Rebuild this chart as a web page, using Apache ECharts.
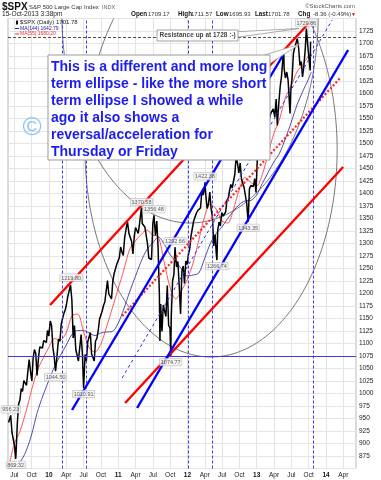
<!DOCTYPE html>
<html><head><meta charset="utf-8">
<script src="https://cdn.jsdelivr.net/npm/echarts@6/dist/echarts.min.js"></script>
<style>html,body{margin:0;padding:0;background:#fff}#c{width:381px;height:480px}</style>
</head><body><div id="c"></div>
<script>
// ---------- data ----------
const priceDates = ['2009-06-01','2009-06-05','2009-06-12','2009-06-19','2009-06-26','2009-07-02','2009-07-08','2009-07-10','2009-07-17','2009-07-24','2009-07-31','2009-08-07','2009-08-14','2009-08-21','2009-08-28','2009-09-04','2009-09-11','2009-09-18','2009-09-25','2009-10-02','2009-10-09','2009-10-16','2009-10-23','2009-10-30','2009-11-06','2009-11-13','2009-11-20','2009-11-27','2009-12-04','2009-12-11','2009-12-18','2009-12-24','2009-12-31',
'2010-01-08','2010-01-15','2010-01-22','2010-01-29','2010-02-05','2010-02-12','2010-02-19','2010-02-26','2010-03-05','2010-03-12','2010-03-19','2010-03-26','2010-04-02','2010-04-09','2010-04-16','2010-04-23','2010-04-26','2010-04-30','2010-05-07','2010-05-14','2010-05-21','2010-05-28','2010-06-04','2010-06-11','2010-06-18','2010-06-25','2010-07-01','2010-07-09','2010-07-16','2010-07-23','2010-07-30','2010-08-06','2010-08-13','2010-08-20','2010-08-27','2010-09-03','2010-09-10','2010-09-17','2010-09-24','2010-10-01','2010-10-08','2010-10-15','2010-10-22','2010-10-29','2010-11-05','2010-11-12','2010-11-19','2010-11-26','2010-12-03','2010-12-10','2010-12-17','2010-12-23','2010-12-31',
'2011-01-07','2011-01-14','2011-01-21','2011-01-28','2011-02-04','2011-02-11','2011-02-18','2011-02-25','2011-03-04','2011-03-11','2011-03-18','2011-03-25','2011-04-01','2011-04-08','2011-04-15','2011-04-21','2011-04-29','2011-05-02','2011-05-06','2011-05-13','2011-05-20','2011-05-27','2011-06-03','2011-06-10','2011-06-17','2011-06-24','2011-07-01','2011-07-07','2011-07-15','2011-07-22','2011-07-29','2011-08-05','2011-08-08','2011-08-12','2011-08-19','2011-08-26','2011-09-02','2011-09-09','2011-09-16','2011-09-23','2011-09-30','2011-10-04','2011-10-07','2011-10-14','2011-10-21','2011-10-27','2011-11-04','2011-11-11','2011-11-18','2011-11-25','2011-12-02','2011-12-09','2011-12-16','2011-12-23','2011-12-30',
'2012-01-06','2012-01-13','2012-01-20','2012-01-27','2012-02-03','2012-02-10','2012-02-17','2012-02-24','2012-03-02','2012-03-09','2012-03-16','2012-03-23','2012-03-30','2012-04-02','2012-04-06','2012-04-13','2012-04-20','2012-04-27','2012-05-04','2012-05-11','2012-05-18','2012-05-25','2012-06-01','2012-06-04','2012-06-08','2012-06-15','2012-06-22','2012-06-29','2012-07-06','2012-07-13','2012-07-20','2012-07-27','2012-08-03','2012-08-10','2012-08-17','2012-08-24','2012-08-31','2012-09-07','2012-09-14','2012-09-21','2012-09-28','2012-10-05','2012-10-12','2012-10-19','2012-10-26','2012-11-02','2012-11-09','2012-11-16','2012-11-23','2012-11-30','2012-12-07','2012-12-14','2012-12-21','2012-12-28',
'2013-01-04','2013-01-11','2013-01-18','2013-01-25','2013-02-01','2013-02-08','2013-02-15','2013-02-22','2013-03-01','2013-03-08','2013-03-15','2013-03-22','2013-03-28','2013-04-05','2013-04-12','2013-04-18','2013-04-26','2013-05-03','2013-05-10','2013-05-17','2013-05-22','2013-05-24','2013-05-31','2013-06-07','2013-06-14','2013-06-24','2013-06-28','2013-07-05','2013-07-12','2013-07-19','2013-07-26','2013-08-02','2013-08-09','2013-08-16','2013-08-23','2013-08-30','2013-09-06','2013-09-13','2013-09-19','2013-09-27','2013-10-04','2013-10-09','2013-10-11','2013-10-15'];
const priceValues = [942,940,956.23,921,919,896,869.32,879,940,979,987,1010,1004,1026,1029,1016,1043,1068,1044,1025,1071,1088,1080,1036,1069,1093,1091,1091,1106,1106,1102,1126,1115,
1145,1136,1092,1074,1044.5,1075,1109,1104,1139,1150,1160,1167,1178,1194,1192,1217,1219.8,1187,1111,1136,1088,1089,1065,1092,1118,1077,1010.91,1078,1065,1103,1102,1122,1079,1072,1065,1105,1110,1126,1149,1146,1165,1176,1183,1183,1226,1199,1200,1189,1225,1240,1244,1257,1258,
1272,1293,1283,1276,1311,1329,1343,1320,1321,1304,1279,1314,1332,1328,1320,1337,1364,1370.58,1340,1338,1333,1331,1300,1271,1272,1268,1340,1356.48,1316,1345,1292,1199,1105,1179,1124,1177,1174,1154,1216,1136,1131,1074.77,1155,1225,1238,1292.66,1253,1264,1216,1159,1244,1255,1220,1265,1258,
1278,1289,1315,1316,1345,1343,1361,1366,1370,1371,1404,1397,1409,1422.38,1398,1370,1379,1403,1369,1353,1295,1318,1278,1266.74,1326,1343,1335,1362,1355,1357,1363,1386,1391,1406,1418,1411,1407,1438,1474.51,1460,1441,1461,1429,1433,1412,1414,1380,1343.35,1409,1416,1418,1414,1430,1402,
1467,1472,1486,1503,1513,1518,1520,1516,1518,1551,1561,1557,1569,1553,1589,1536,1582,1614,1634,1668,1687,1650,1631,1643,1627,1560,1606,1632,1680,1692,1692,1710,1691,1656,1664,1633,1655,1688,1729.86,1692,1690,1646,1703,1702];

const maDates = ['2009-05-31','2009-06-30','2009-07-31','2009-08-31','2009-09-30','2009-10-31','2009-11-30','2009-12-31','2010-01-31','2010-02-28','2010-03-31','2010-04-30','2010-05-31','2010-06-30','2010-07-31','2010-08-31','2010-09-30','2010-10-31','2010-11-30','2010-12-31','2011-01-31','2011-02-28','2011-03-31','2011-04-30','2011-05-31','2011-06-30','2011-07-31','2011-08-31','2011-09-30','2011-10-31','2011-11-30','2011-12-31','2012-01-31','2012-02-29','2012-03-31','2012-04-30','2012-05-31','2012-06-30','2012-07-31','2012-08-31','2012-09-30','2012-10-31','2012-11-30','2012-12-31','2013-01-31','2013-02-28','2013-03-31','2013-04-30','2013-05-31','2013-06-30','2013-07-31','2013-08-31','2013-09-30','2013-10-15'];
const ma144Values = [847,855,863,883,917,962,996,1026,1054,1076,1096,1118,1126,1126,1121,1116,1121,1123,1124,1140,1169,1203,1234,1264,1288,1301,1313,1299,1278,1264,1249,1235,1237,1241,1270,1300,1320,1333,1350,1365,1378,1385,1386,1397,1420,1442,1463,1481,1510,1542,1577,1604,1629,1642.79];
const ma55Values = [848,899,924,962,1006,1045,1070,1092,1110,1107,1121,1155,1159,1125,1091,1083,1098,1133,1170,1209,1247,1288,1305,1318,1327,1317,1313,1262,1213,1189,1206,1228,1261,1307,1354,1379,1369,1345,1341,1368,1408,1432,1422,1415,1438,1479,1520,1549,1592,1615,1643,1658,1675,1680.2];

const highLabelDates = ['2009-06-12','2010-04-26','2011-05-02','2011-07-07','2011-10-27','2012-04-02','2013-09-19'];
const highLabelValues = [956.23,1219.80,1370.58,1356.48,1292.66,1422.38,1729.86];
const lowLabelDates = ['2009-07-08','2010-02-05','2010-07-01','2011-10-04','2012-06-04','2012-11-16'];
const lowLabelValues = [869.32,1044.50,1010.91,1074.77,1266.74,1343.35];

// months since Jan 2009
const markerMonths = [14.27,18.43,36.1,40.26,57.77];
const supportLevel = 1074.77;
const resistanceLevel = 1712;
const redLineUpper = [[12.19,1177],[57.2,1743]];
const redLineLower = [[25.2,981],[62.97,1453]];
const redDottedLine = [[24.68,1155],[62.45,1631]];
const blueLineLeft = [[16.0,967],[52.57,1677]];
const blueLineRight = [[27.27,971],[63.83,1687]];
const blueDashedLine = [[24.68,1031],[61.06,1747]];
// ellipses: [centre month, centre price, x-radius (months), y-radius (points)]
const ellipses = [[40.09,1487,21.84,414],[36.45,1757,22.2,416]];

const xTickMonths = [6,9,12,15,18,21,24,27,30,33,36,39,42,45,48,51,54,57,60,63];
const monthNames = {3:'Apr',6:'Jul',9:'Oct'};

// ---------- helpers ----------
function monthIndex(s){const p=s.split('-').map(Number);const dim=new Date(p[0],p[1],0).getDate();return (p[0]-2009)*12+(p[1]-1)+(p[2]-1)/dim;}
const pair=(ds,vs)=>ds.map((d,i)=>[monthIndex(d),vs[i]]);
const FONT='Liberation Sans, Arial, sans-serif';

function trend(data,color,width,type){
  return {type:'line',data:data,symbol:'none',silent:true,z:5,animation:false,
    lineStyle:{color:color,width:width,type:type||'solid',cap:'butt'}};
}
const labelBase={show:true,fontSize:5.5,fontFamily:FONT,color:'#333',backgroundColor:'#f2f2f2',
  borderColor:'#aaa',borderWidth:0.5,padding:[1,1,0,1],formatter:p=>p.value[1].toFixed(2)};

const chart=echarts.init(document.getElementById('c'),null,{renderer:'canvas'});
chart.setOption({
  animation:false,
  grid:{left:8,right:25,top:18.5,bottom:11.5,show:true,borderColor:'#b8b8b8',borderWidth:1,backgroundColor:'#fff'},
  xAxis:{type:'value',min:4.9,max:65.2,
    axisLine:{show:false},
    axisTick:{show:false,customValues:xTickMonths},
    splitLine:{show:true,lineStyle:{color:'#e4e4e4',width:1}},
    axisLabel:{customValues:xTickMonths,fontSize:6.5,fontFamily:FONT,color:'#222',margin:3,
      formatter:v=>{const r=((v%12)+12)%12;return r===0?'{b|'+String(2009+v/12).slice(2)+'}':monthNames[r];},
      rich:{b:{fontWeight:'bold',fontSize:6.5,fontFamily:FONT,color:'#111'}}}},
  yAxis:{type:'value',min:850,max:1750,interval:25,position:'right',
    axisLine:{show:false},axisTick:{show:false},
    splitLine:{show:true,lineStyle:{color:'#e4e4e4',width:1}},
    axisLabel:{showMinLabel:false,showMaxLabel:false,fontSize:6.5,fontFamily:FONT,color:'#222',margin:3,
      formatter:v=>String(v)}},
  series:[
    {type:'line',name:'markers',data:[],silent:true,z:2,
      markLine:{silent:true,symbol:'none',label:{show:false},animation:false,
        data:[
          ...markerMonths.map(m=>({xAxis:m,lineStyle:{color:'#3a3aff',width:1,type:[3,2]}})),
          {yAxis:supportLevel,lineStyle:{color:'#3a3adf',width:1,type:'solid'}},
          {yAxis:resistanceLevel,lineStyle:{color:'#222',width:0.8,type:[3,2]}}
        ]}},
    {type:'custom',coordinateSystem:'cartesian2d',silent:true,z:3,data:ellipses,encode:{x:0,y:1},
      renderItem:(params,api)=>{
        const cx=api.value(0),cy=api.value(1),rx=api.value(2),ry=api.value(3);const pts=[];
        for(let k=0;k<=240;k++){const t=k/240*2*Math.PI;pts.push(api.coord([cx+rx*Math.cos(t),cy+ry*Math.sin(t)]));}
        const cs=params.coordSys;
        return {type:'polyline',shape:{points:pts},style:{stroke:'#555',lineWidth:0.8,fill:null},
          clipPath:{type:'rect',shape:{x:cs.x,y:cs.y,width:cs.width,height:cs.height}}};
      }},
    {type:'line',name:'MA(144)',data:pair(maDates,ma144Values),symbol:'none',smooth:0.3,z:3,silent:true,
      lineStyle:{color:'#22229a',width:0.8}},
    {type:'line',name:'MA(55)',data:pair(maDates,ma55Values),symbol:'none',smooth:0.3,z:3,silent:true,
      lineStyle:{color:'#ff2a2a',width:0.8}},
    {type:'line',name:'$SPX',data:pair(priceDates,priceValues),symbol:'none',z:4,silent:true,
      lineStyle:{color:'#000',width:1.5}},
    trend(redLineUpper,'#ff0000',2.4),
    trend(redLineLower,'#ff0000',2.4),
    trend(redDottedLine,'#ff2020',2.2,[2,2]),
    trend(blueLineLeft,'#0000ff',2.4),
    trend(blueLineRight,'#0000ff',2.4),
    trend(blueDashedLine,'#2a2aff',1,[3,3]),
    {type:'scatter',data:pair(highLabelDates,highLabelValues),symbolSize:1,z:6,silent:true,
      itemStyle:{color:'rgba(0,0,0,0)'},label:Object.assign({position:'top',distance:2},labelBase)},
    {type:'scatter',data:pair(lowLabelDates,lowLabelValues),symbolSize:1,z:6,silent:true,
      itemStyle:{color:'rgba(0,0,0,0)'},label:Object.assign({position:'bottom',distance:2},labelBase)}
  ],
  graphic:[
    {type:'text',x:2,y:7,z:100,style:{text:'$SPX',font:'bold 10px '+FONT,fill:'#111',textVerticalAlign:'middle'}},
    {type:'text',x:29,y:7,z:100,style:{text:'S&P 500 Large Cap Index',font:'6px '+FONT,fill:'#333',textVerticalAlign:'middle'}},
    {type:'text',x:102,y:7,z:100,style:{text:'INDX',font:'5.5px '+FONT,fill:'#666',textVerticalAlign:'middle'}},
    {type:'text',x:2,y:14.5,z:100,style:{text:'15-Oct-2013 3:38pm',font:'6.6px '+FONT,fill:'#222',textVerticalAlign:'middle'}},
    {type:'text',x:305,y:6.5,z:100,style:{text:'\u00a9StockCharts.com',font:'6px '+FONT,fill:'#555',textVerticalAlign:'middle'}},
    {type:'text',x:131,y:14.5,z:100,style:{text:'Open',font:'bold 6.3px '+FONT,fill:'#111',textVerticalAlign:'middle'}},
    {type:'text',x:148,y:14.5,z:100,style:{text:'1709.17',font:'6px '+FONT,fill:'#333',textVerticalAlign:'middle'}},
    {type:'text',x:178,y:14.5,z:100,style:{text:'High',font:'bold 6.3px '+FONT,fill:'#111',textVerticalAlign:'middle'}},
    {type:'text',x:191,y:14.5,z:100,style:{text:'1711.57',font:'6px '+FONT,fill:'#333',textVerticalAlign:'middle'}},
    {type:'text',x:216,y:14.5,z:100,style:{text:'Low',font:'bold 6.3px '+FONT,fill:'#111',textVerticalAlign:'middle'}},
    {type:'text',x:229,y:14.5,z:100,style:{text:'1695.93',font:'6px '+FONT,fill:'#333',textVerticalAlign:'middle'}},
    {type:'text',x:255,y:14.5,z:100,style:{text:'Last',font:'bold 6.3px '+FONT,fill:'#111',textVerticalAlign:'middle'}},
    {type:'text',x:268,y:14.5,z:100,style:{text:'1701.78',font:'6px '+FONT,fill:'#333',textVerticalAlign:'middle'}},
    {type:'text',x:298,y:14.5,z:100,style:{text:'Chg',font:'bold 6.3px '+FONT,fill:'#111',textVerticalAlign:'middle'}},
    {type:'text',x:313,y:14.5,z:100,style:{text:'-8.36 (-0.49%)',font:'6px '+FONT,fill:'#333',textVerticalAlign:'middle'}},
    {type:'text',x:351,y:14.5,z:100,style:{text:'\u25bc',font:'5px '+FONT,fill:'#dd0000',textVerticalAlign:'middle'}},
    // in-plot legend
    {type:'rect',z:100,shape:{x:16,y:20.5,width:2,height:4},style:{fill:'#111'}},
    {type:'text',x:20,y:22.5,z:100,style:{text:'$SPX (Daily) 1701.78',font:'6px '+FONT,fill:'#222',textVerticalAlign:'middle'}},
    {type:'line',z:100,shape:{x1:15,y1:28.5,x2:19,y2:28.5},style:{stroke:'#22229a',lineWidth:1}},
    {type:'text',x:20,y:28.5,z:100,style:{text:'MA(144) 1642.79',font:'5px '+FONT,fill:'#22229a',textVerticalAlign:'middle'}},
    {type:'line',z:100,shape:{x1:15,y1:34,x2:19,y2:34},style:{stroke:'#ff2a2a',lineWidth:1}},
    {type:'text',x:20,y:34,z:100,style:{text:'MA(55) 1680.20',font:'5px '+FONT,fill:'#ff2a2a',textVerticalAlign:'middle'}},
    // resistance callout
    {type:'polygon',z:100,shape:{points:[[232,32],[299,28.5],[232,38]]},style:{fill:'#fff',stroke:'#888',lineWidth:0.7}},
    {type:'rect',z:101,shape:{x:157,y:30,width:81,height:11},style:{fill:'#fff',stroke:'#888',lineWidth:0.8}},
    {type:'text',x:159.5,y:35.7,z:102,style:{text:'Resistance up at 1728 :-)',font:'bold 6.5px '+FONT,fill:'#444',textVerticalAlign:'middle'}},
    // big text callout
    {type:'polygon',z:100,shape:{points:[[255,58],[300,44],[266,66]]},style:{fill:'#fff',stroke:'#999',lineWidth:0.8}},
    {type:'rect',z:101,shape:{x:48,y:55,width:222,height:105},style:{fill:'#fff',stroke:'#999',lineWidth:1}},
    {type:'text',x:51,y:58.5,z:102,style:{text:'This is a different and more long\nterm ellipse - like the more short\nterm ellipse I showed a while\nago it also shows a\nreversal/acceleration for\nThursday or Friday',
      font:'bold 14px '+FONT,fill:'#1c1cf0',lineHeight:17}},
    {type:'text',x:32,y:128,z:100,style:{text:'\u00a9',font:'26px '+FONT,fill:'#8cc4ef',textAlign:'center',textVerticalAlign:'middle'}}
  ]
});
</script></body></html>
